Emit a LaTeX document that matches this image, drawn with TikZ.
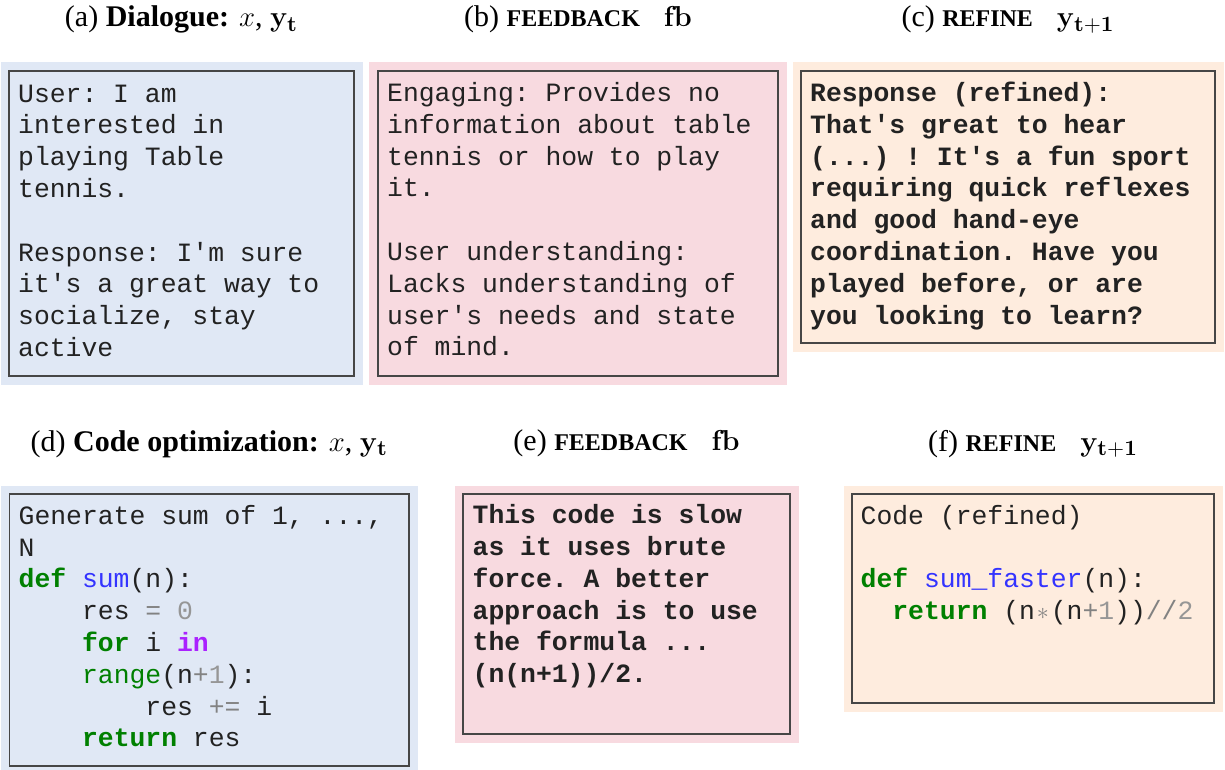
\documentclass[tikz,border=0pt]{standalone}
\usepackage[no-math]{fontspec}
\setmainfont{Liberation Serif}
\setmonofont{Liberation Mono}
\usetikzlibrary{positioning}
\definecolor{dlgBlue}{RGB}{224,232,245}
\definecolor{fbPink}{RGB}{248,218,224}
\definecolor{refPeach}{RGB}{254,236,222}
\definecolor{cardLine}{RGB}{70,70,70}
\definecolor{txtDark}{RGB}{34,34,34}
\definecolor{kwGreen}{RGB}{0,128,0}
\definecolor{fnBlue}{RGB}{51,51,255}
\definecolor{owPurple}{RGB}{170,34,255}
\definecolor{opGray}{RGB}{130,130,130}
\definecolor{numGray}{RGB}{150,150,150}
% code colouring
\newcommand{\kw}[1]{\textcolor{kwGreen}{\textbf{#1}}}
\newcommand{\fn}[1]{\textcolor{fnBlue}{#1}}
\newcommand{\bi}[1]{\textcolor{kwGreen}{#1}}
\newcommand{\ow}[1]{\textcolor{owPurple}{\textbf{#1}}}
\newcommand{\op}[1]{\textcolor{opGray}{#1}}
\newcommand{\nm}[1]{\textcolor{numGray}{#1}}
% fixed pitch spaces
\newcommand{\monofont}{\fontsize{13.2}{15.9}\selectfont\ttfamily}

\begin{document}
\begin{tikzpicture}[x=0.5pt, y=-0.5pt,
		panel/.style={rectangle, inner sep=0pt},
		card/.style={rectangle, draw=cardLine, line width=0.7pt, inner sep=0pt},
		txt/.style={anchor=base west, inner sep=0pt, align=left, text=txtDark, font=\monofont,
			execute at begin node={\spaceskip=7.92pt\relax\xspaceskip=7.92pt\relax}},
		ttl/.style={anchor=base, inner sep=0pt, font=\fontsize{15}{18}\selectfont}]
	\useasboundingbox (0,0) rectangle (1225,770);
	% top row: dialogue
	\node[panel, fill=dlgBlue, minimum width=181pt, minimum height=161pt] (pa) at (181.5,223.5) {};
	\node[card, minimum width=172.5pt, minimum height=152.5pt] (ca) at (pa.center) {};
	\node[txt, text width=165pt] (ta) at ([xshift=4.75pt, yshift=-15.9pt]ca.north west)
		{User: I am\\ interested in\\ playing Table\\ tennis.\\[\baselineskip]
		 Response: I'm sure\\ it's a great way to\\ socialize, stay\\ active};
	\node[ttl] (ha) at (pa.center |- 0,27) {(a) \textbf{Dialogue:} $x$, $\mathbf{y_t}$};

	\node[panel, fill=fbPink, minimum width=209pt, minimum height=161pt] (pb) at (578,223.5) {};
	\node[card, minimum width=200pt, minimum height=152.5pt] (cb) at (pb.center) {};
	\node[txt, text width=192pt] (tb) at ([xshift=4.75pt, yshift=-15.6pt]cb.north west)
		{Engaging: Provides no\\ information about table\\ tennis or how to play\\ it.\\[\baselineskip]
		 User understanding:\\ Lacks understanding of\\ user's needs and state\\ of mind.};
	\node[ttl] (hb) at (pb.center |- 0,27) {(b) \textbf{\fontsize{12}{14}\selectfont FEEDBACK}\hspace{12pt}$\mathbf{fb}$};

	\node[panel, fill=refPeach, minimum width=215.5pt, minimum height=144.5pt] (pc) at (1008,207) {};
	\node[card, minimum width=207pt, minimum height=136pt] (cc) at (pc.center) {};
	\node[txt, text width=200pt, font=\monofont\bfseries] (tc)
		at ([xshift=4.75pt, yshift=-15.6pt]cc.north west)
		{Response (refined):\\ That's great to hear\\ (...) ! It's a fun sport\\ requiring quick reflexes\\
		 and good hand-eye\\ coordination. Have you\\ played before, or are\\ you looking to learn?};
	\node[ttl] (hc) at (pc.center |- 0,27) {(c) \textbf{\fontsize{12}{14}\selectfont REFINE}\hspace{12pt}$\mathbf{y_{t+1}}$};

	% bottom row: code optimization
	\node[panel, fill=dlgBlue, minimum width=208.25pt, minimum height=144.5pt] (pd) at (209.25,630) {};
	\node[card, minimum width=199.75pt, minimum height=136pt] (cd) at (pd.center) {};
	\node[txt, text width=192pt] (td) at ([xshift=4.75pt, yshift=-15.5pt]cd.north west)
		{Generate sum of 1, ...,\\ N\\
		 \kw{def} \fn{sum}(n):\\
		 \phantom{xxxx}res \op{=} \nm{0}\\
		 \phantom{xxxx}\kw{for} i \ow{in}\\
		 \phantom{xxxx}\bi{range}(n\op{+}\nm{1}):\\
		 \phantom{xxxxxxxx}res \op{+=} i\\
		 \phantom{xxxx}\kw{return} res};
	\node[ttl] (hd) at (pd.center |- 0,451.5) {(d) \textbf{Code optimization:} $x$, $\mathbf{y_t}$};

	\node[panel, fill=fbPink, minimum width=172pt, minimum height=128.5pt] (pe) at (626.5,614) {};
	\node[card, minimum width=163.5pt, minimum height=120pt] (ce) at (pe.center) {};
	\node[txt, text width=156pt, font=\monofont\bfseries] (te)
		at ([xshift=5pt, yshift=-15.2pt]ce.north west)
		{This code is slow\\ as it uses brute\\ force. A better\\ approach is to use\\
		 the formula ...\\ (n(n+1))/2.};
	\node[ttl] (he) at (pe.center |- 0,450.5) {(e) \textbf{\fontsize{12}{14}\selectfont FEEDBACK}\hspace{12pt}$\mathbf{fb}$};

	\node[panel, fill=refPeach, minimum width=189.5pt, minimum height=113pt] (pf) at (1033,598.5) {};
	\node[card, minimum width=181pt, minimum height=104.5pt] (cf) at (pf.center) {};
	\node[txt, text width=174pt] (tf) at ([xshift=4.5pt, yshift=-15.5pt]cf.north west)
		{Code (refined)\\[\baselineskip]
		 \kw{def} \fn{sum\_faster}(n):\\
		 \phantom{xx}\kw{return} (n\op{\makebox[0.6em]{$\ast$}}(n\op{+}\nm{1}))\op{//}\nm{2}};
	\node[ttl] (hf) at (pf.center |- 0,451.5) {(f) \textbf{\fontsize{12}{14}\selectfont REFINE}\hspace{12pt}$\mathbf{y_{t+1}}$};
\end{tikzpicture}
\end{document}
